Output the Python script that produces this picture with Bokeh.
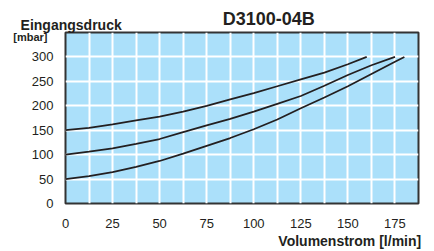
from bokeh.plotting import figure
from bokeh.models import FixedTicker, LinearAxis, Range1d
from bokeh.embed import file_html
from bokeh.resources import INLINE

# Data
x1 = [0, 12.5, 25, 37.5, 50, 62.5, 75, 87.5, 100, 112.5, 125, 137.5, 150, 160]
y1 = [150, 155, 162, 170, 178, 188, 200, 213, 226, 240, 254, 268, 285, 300]
x2 = [0, 12.5, 25, 37.5, 50, 62.5, 75, 87.5, 100, 112.5, 125, 137.5, 150, 162.5, 175]
y2 = [100, 106, 113, 122, 132, 146, 160, 173, 188, 204, 220, 241, 263, 283, 300]
x3 = [0, 12.5, 25, 37.5, 50, 62.5, 75, 87.5, 100, 112.5, 125, 137.5, 150, 162.5, 175, 180]
y3 = [50, 56, 64, 75, 87, 102, 118, 134, 152, 172, 195, 217, 240, 265, 290, 300]

x_ticks = [0, 25, 50, 75, 100, 125, 150, 175]
y_ticks = [0, 50, 100, 150, 200, 250, 300]
x_grid = [12.5 * i for i in range(1, 15)]
y_grid = [50, 100, 150, 200, 250, 300]

title_text = "D3100-04B"
y_label = "Eingangsdruck"
y_unit = "[mbar]"
x_label = "Volumenstrom [l/min]"

INK = "#231f20"
FONT = "Liberation Sans"

p = figure(width=434, height=251, output_backend="svg", toolbar_location=None,
           title=None, x_range=Range1d(0, 187.5), y_range=Range1d(0, 350),
           min_border_left=65, min_border_right=16, min_border_top=32, min_border_bottom=48)

p.background_fill_color = "#abe0fa"
p.border_fill_color = "white"
p.outline_line_color = "#333333"
p.outline_line_width = 2

p.xaxis.ticker = FixedTicker(ticks=x_ticks)
p.yaxis.ticker = FixedTicker(ticks=y_ticks)
p.xgrid.ticker = FixedTicker(ticks=x_grid)
p.ygrid.ticker = FixedTicker(ticks=y_grid)
for g in (p.xgrid, p.ygrid):
    g.grid_line_color = "white"
    g.grid_line_width = 2


def style_axis(ax, size, bold=False):
    ax.axis_line_color = None
    ax.major_tick_line_color = None
    ax.minor_tick_line_color = None
    ax.major_tick_out = 0
    ax.major_tick_in = 0
    ax.major_label_text_font = FONT
    ax.major_label_text_font_size = size
    ax.major_label_text_color = INK
    if bold:
        ax.major_label_text_font_style = "bold"


style_axis(p.xaxis[0], "13px")
style_axis(p.yaxis[0], "13px")
p.yaxis.major_label_standoff = 12
p.xaxis.major_label_standoff = 15

# text annotations placed as axis labels (outside the frame)
ax_e = LinearAxis(ticker=FixedTicker(ticks=[3]), major_label_overrides={3: y_label})
style_axis(ax_e, "14px", bold=True)
ax_e.major_label_standoff = 0
ax_t = LinearAxis(ticker=FixedTicker(ticks=[108]), major_label_overrides={108: title_text})
style_axis(ax_t, "18px", bold=True)
ax_t.major_label_standoff = -15
p.add_layout(ax_e, "above")
p.add_layout(ax_t, "above")

ax_u = LinearAxis(ticker=FixedTicker(ticks=[340]), major_label_overrides={340: y_unit})
style_axis(ax_u, "11px", bold=True)
ax_u.major_label_standoff = -19
p.add_layout(ax_u, "left")

ax_v = LinearAxis(ticker=FixedTicker(ticks=[151]), major_label_overrides={151: x_label})
style_axis(ax_v, "14px", bold=True)
ax_v.major_label_standoff = 2
p.add_layout(ax_v, "below")

for xs, ys in ((x1, y1), (x2, y2), (x3, y3)):
    p.line(xs, ys, line_color=INK, line_width=1.8)

open("out.html", "w").write(file_html(p, INLINE))
